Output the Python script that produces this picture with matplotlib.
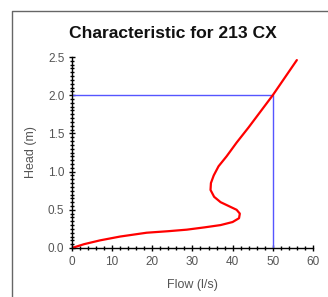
import matplotlib
matplotlib.use("Agg")
import matplotlib.pyplot as plt
from matplotlib.ticker import MultipleLocator
from matplotlib.lines import Line2D

plt.rcParams['font.family'] = ['Liberation Sans', 'DejaVu Sans']

flow = [0, 3, 7, 12, 18.6, 24, 28.6, 33, 37, 40, 41.6, 41.8, 41, 39, 37, 35.4, 34.5, 34.6, 35.3, 36.5, 38.5, 41, 44, 47, 50, 53, 56]
head = [0, 0.05, 0.1, 0.15, 0.2, 0.22, 0.24, 0.27, 0.3, 0.34, 0.39, 0.45, 0.5, 0.55, 0.6, 0.67, 0.76, 0.85, 0.95, 1.07, 1.2, 1.38, 1.58, 1.79, 2.0, 2.23, 2.46]
op_flow = 50
op_head = 2.0

fig = plt.figure(figsize=(3.28, 2.97), dpi=100)
ax = fig.add_axes([0.2195, 0.165, 0.7345, 0.643])

ax.plot([0, op_flow, op_flow], [op_head, op_head, 0], color='#5555ff', lw=1.0)
ax.plot(flow, head, color='red', lw=1.6, solid_capstyle='round')

ax.set_xlim(0, 60)
ax.set_ylim(0, 2.5)
ax.xaxis.set_major_locator(MultipleLocator(10))
ax.xaxis.set_minor_locator(MultipleLocator(2))
ax.yaxis.set_major_locator(MultipleLocator(0.5))
ax.yaxis.set_minor_locator(MultipleLocator(0.05))
ax.yaxis.set_major_formatter(plt.FuncFormatter(lambda v, p: f"{v:.1f}"))

for s in ['top', 'right']:
    ax.spines[s].set_visible(False)
for s in ['left', 'bottom']:
    ax.spines[s].set_linewidth(1.0)
    ax.spines[s].set_color('black')

ax.tick_params(which='major', direction='inout', length=5, width=1.0, colors='black',
               labelcolor='#555555', labelsize=8.5, pad=3)
ax.tick_params(which='minor', direction='inout', length=3, width=1.0, colors='black')

ax.set_xlabel('Flow (l/s)', fontsize=9, color='#555555', labelpad=8)
ax.set_ylabel('Head (m)', fontsize=9, color='#555555', labelpad=8)
fig.text(173/328, 1 - 33/297, 'Characteristic for 213 CX', fontsize=12.6,
         fontweight='bold', ha='center', va='center', color='#111111')

fig.add_artist(Line2D([12/328, 12/328, 1.0], [0.0, 1 - 10.5/297, 1 - 10.5/297],
                      transform=fig.transFigure, color='#666666', lw=1.0))

fig.savefig('out.png', dpi=100)
